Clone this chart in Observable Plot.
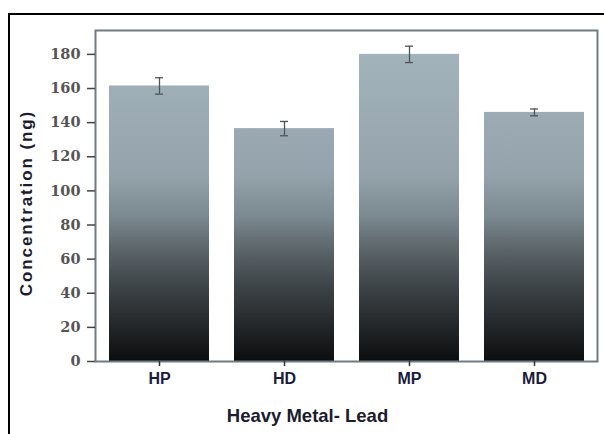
<!DOCTYPE html>
<html>
<head>
<meta charset="utf-8">
<script src="https://cdn.jsdelivr.net/npm/d3@7"></script>
<script src="https://cdn.jsdelivr.net/npm/@observablehq/plot@0.6"></script>
<style>
  html, body { margin: 0; padding: 0; background: #fff; overflow: hidden; }
  #wrap { position: relative; width: 604px; height: 434px; overflow: hidden; }
  #border { position: absolute; left: 8px; top: 13px; width: 700px; height: 500px;
            border-top: 2px solid #000; border-left: 2px solid #000; }
  #chart { position: absolute; left: 0; top: 0; }
</style>
</head>
<body>
<div id="wrap"><div id="border"></div><div id="chart"></div></div>
<script>
const categories = ["HP", "HD", "MP", "MD"];
const values = [161.5, 136.5, 180, 146];
const errors = [4.8, 4.2, 4.8, 2.0];
const yTicks = [0, 20, 40, 60, 80, 100, 120, 140, 160, 180];
const xTitle = "Heavy Metal- Lead";
const yTitle = "Concentration (ng)";

const data = categories.map((c, i) => ({cat: c, value: values[i], lo: values[i] - errors[i], hi: values[i] + errors[i]}));

const plot = Plot.plot({
  width: 604,
  height: 434,
  marginLeft: 95,
  marginRight: 7,
  marginTop: 30,
  marginBottom: 73,
  style: {background: "transparent", overflow: "visible"},
  x: {domain: categories, paddingInner: 0.2, paddingOuter: 0.1, label: null},
  y: {domain: [0, 194], label: null},
  marks: [
    Plot.barY(data, {x: "cat", y: "value", fill: "url(#barGrad)"}),
    Plot.ruleX(data, {x: "cat", y1: "lo", y2: "hi", stroke: "#4d5558", strokeWidth: 1.3}),
    Plot.tickY(data, {x: "cat", y: "lo", insetLeft: 46, insetRight: 46, stroke: "#4d5558", strokeWidth: 1.3}),
    Plot.tickY(data, {x: "cat", y: "hi", insetLeft: 46, insetRight: 46, stroke: "#4d5558", strokeWidth: 1.3}),
    Plot.frame({stroke: "#6e7b81", strokeWidth: 2}),
    Plot.axisY({ticks: yTicks, tickSize: 8, tickPadding: 7, stroke: "#444", strokeWidth: 1.5,
      fill: "#555", fontFamily: "DejaVu Serif", fontSize: 14.5, fontWeight: "bold", label: null}),
    Plot.axisX({tickSize: 5, tickPadding: 6, stroke: "#333", strokeWidth: 1.5,
      fill: "#1c1c3a", fontFamily: "Liberation Sans", fontSize: 16, fontWeight: "bold", label: null}),
    Plot.text([xTitle], {text: d => d, frameAnchor: "bottom", dx: -39, dy: 55, lineAnchor: "middle",
      fontFamily: "Liberation Sans", fontSize: 18.5, fontWeight: "bold", fill: "#1c1c2e"}),
    Plot.text([yTitle], {text: d => d, frameAnchor: "left", dx: -69, dy: 7, rotate: -90,
      textAnchor: "middle", lineAnchor: "middle",
      fontFamily: "Liberation Sans", fontSize: 17, fontWeight: "bold", fill: "#1c1c2e"})
  ]
});

// vertical gradient in plot coordinates (shared by all bars)
const ys = plot.scale("y");
const yTop = ys.apply(194), yBot = ys.apply(0);
const stops = [[194, "#a6b6be"], [110, "#95a4ac"], [85, "#7b8990"], [65, "#5b6469"], [42, "#3b4145"], [12, "#1a1c1e"], [0, "#0d0d0e"]];
const svg = d3.select(plot.tagName.toLowerCase() === "svg" ? plot : plot.querySelector("svg"));
const grad = svg.insert("defs", ":first-child").append("linearGradient")
  .attr("id", "barGrad").attr("gradientUnits", "userSpaceOnUse")
  .attr("x1", 0).attr("x2", 0).attr("y1", yTop).attr("y2", yBot);
stops.forEach(([v, c]) => grad.append("stop")
  .attr("offset", (ys.apply(v) - yTop) / (yBot - yTop)).attr("stop-color", c));
document.getElementById("chart").appendChild(plot);
// letter spacing on the y title
svg.selectAll("text").filter(function() { return this.textContent === yTitle; }).style("letter-spacing", "1.9px");
</script>
</body>
</html>
